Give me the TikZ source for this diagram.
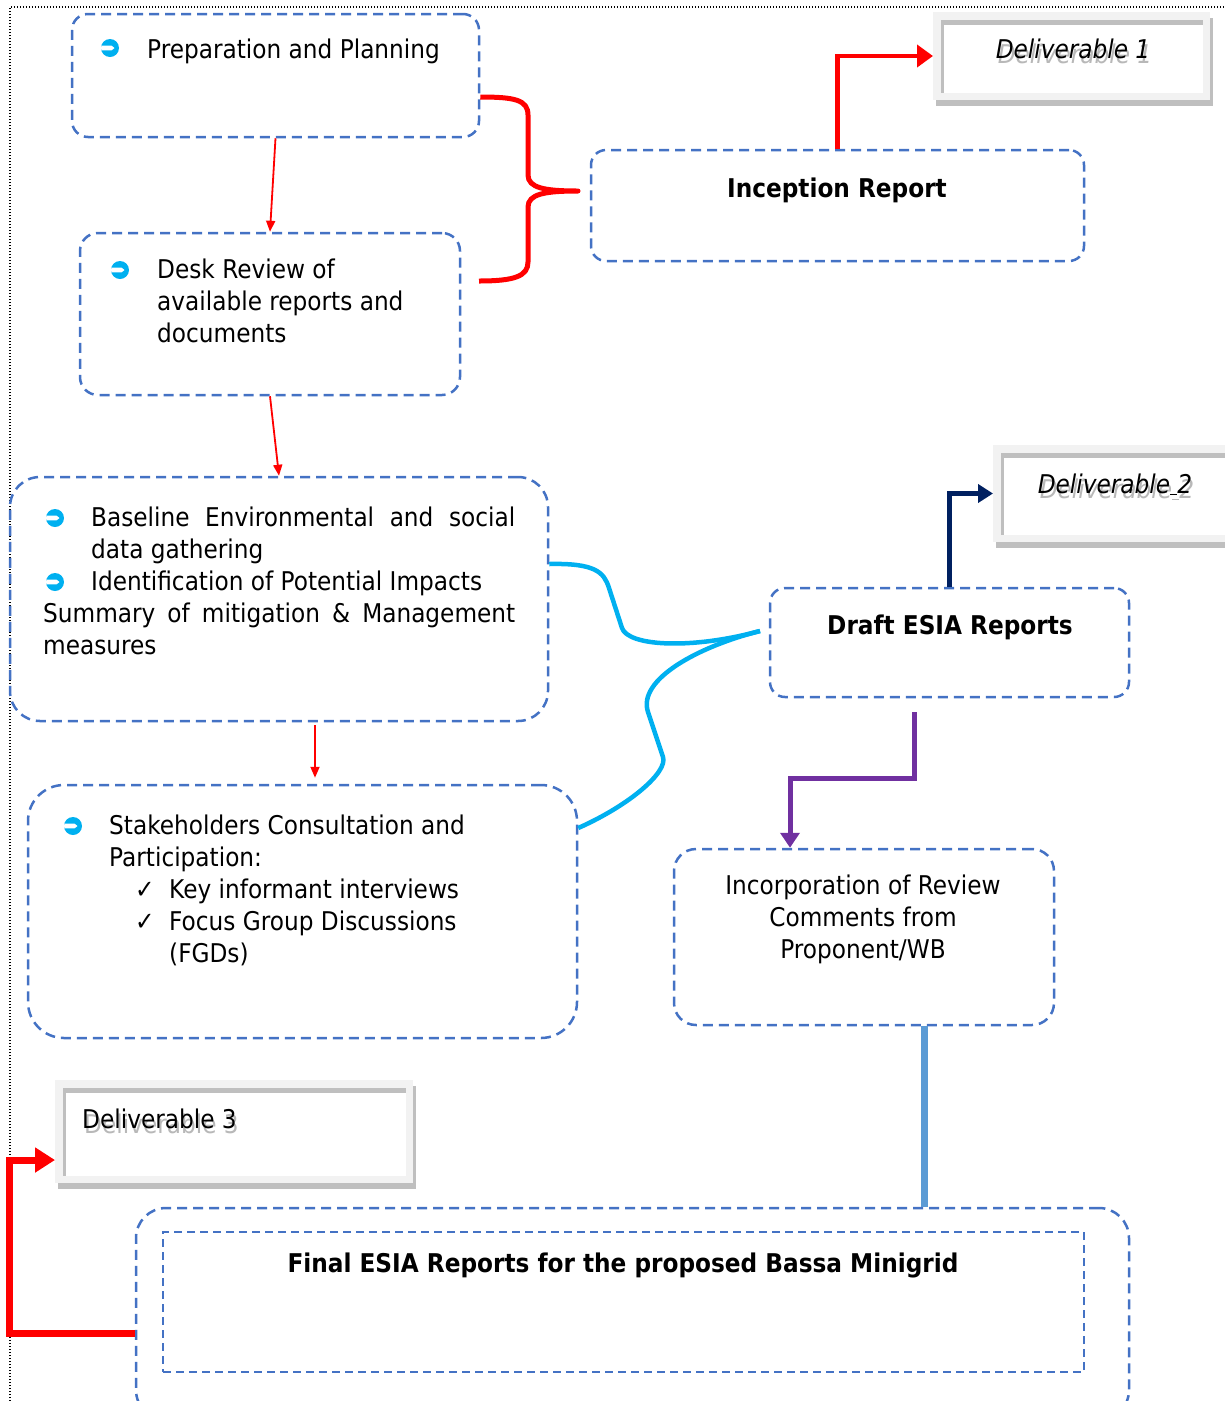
\documentclass[tikz,border=0pt]{standalone}
\usepackage{fontspec}
\setmainfont{DejaVu Sans}[FakeStretch=0.9]
\usepackage{xcolor}
\definecolor{boxblue}{RGB}{68,114,196}
\definecolor{myred}{RGB}{255,0,0}
\definecolor{mynavy}{RGB}{0,32,96}
\definecolor{mycyan}{RGB}{0,176,240}
\definecolor{mypurple}{RGB}{112,48,160}
\definecolor{mysteel}{RGB}{91,155,213}
\definecolor{framegray}{RGB}{242,242,242}
\definecolor{bandgray}{RGB}{191,191,191}
\usepackage{tikz}
\usetikzlibrary{arrows.meta,shadows,calc}
\tikzstyle{stagebox}=[draw=boxblue,line width=2.5pt,dash pattern=on 10pt off 6pt,rectangle,inner sep=0pt]
\tikzstyle{delivbox}=[draw=framegray,line width=7.5pt,fill=white,rectangle,inner sep=0pt,
  drop shadow={shadow xshift=3pt,shadow yshift=-6pt,fill=bandgray,draw=bandgray,line width=7.5pt,opacity=1},
  path picture={\fill[bandgray] (path picture bounding box.north west) rectangle ([yshift=-8.75pt]path picture bounding box.north east);
                \fill[bandgray] (path picture bounding box.north west) rectangle ([xshift=6.75pt]path picture bounding box.south west);}]
\tikzstyle{bodytext}=[inner sep=0pt,align=left,execute at begin node=\strut]
\tikzstyle{shadowtext}=[bodytext,text=black!28]
\tikzstyle{bulletmark}=[circle,fill=mycyan,minimum size=18pt,inner sep=0pt,
  path picture={\fill[white,shift={(path picture bounding box.center)}] (-10,-2.4) -- (1.5,-2.4) -- (4.5,0) -- (1.5,2.4) -- (-10,2.4) -- cycle;}]
\tikzstyle{thinarrow}=[draw=myred,line width=1.8pt,-{Triangle[length=11pt,width=9pt]}]
\tikzstyle{bracered}=[draw=myred,line width=5pt,line join=round]
\tikzstyle{redarrow}=[draw=myred,line width=4.5pt,-{Triangle[length=16pt,width=22pt]}]
\tikzstyle{navyarrow}=[draw=mynavy,line width=4.5pt,-{Triangle[length=15pt,width=18pt]}]
\tikzstyle{cyanline}=[draw=mycyan,line width=4.5pt]
\tikzstyle{purplearrow}=[draw=mypurple,line width=5pt,-{Triangle[length=15pt,width=19pt]}]
\tikzstyle{steelline}=[draw=mysteel,line width=7pt]
\tikzstyle{bigredarrow}=[draw=myred,line width=7pt,-{Triangle[length=20pt,width=24pt]}]
\tikzstyle{pageborder}=[line width=1.2pt,dash pattern=on 1.2pt off 1.8pt]
\begin{document}
\begin{tikzpicture}[x=1pt,y=-1pt,font=\fontsize{25.8}{32}\selectfont]
\useasboundingbox (0,0) rectangle (1225,1401);
\draw[pageborder] (10,1401) -- (10,7) -- (1225,7);

% process boxes
\node[stagebox,rounded corners=16pt,minimum width=407pt,minimum height=123pt] (prep) at (275.5,75.5) {};
\node[stagebox,rounded corners=18pt,minimum width=380pt,minimum height=162pt] (desk) at (270,314) {};
\node[stagebox,rounded corners=30pt,minimum width=538pt,minimum height=244pt] (base) at (279,599) {};
\node[stagebox,rounded corners=36pt,minimum width=549pt,minimum height=253pt] (stake) at (302.5,911.5) {};
\node[stagebox,rounded corners=15pt,minimum width=493pt,minimum height=111pt] (incep) at (837.5,205.5) {};
\node[stagebox,rounded corners=15pt,minimum width=359pt,minimum height=109pt] (draft) at (949.5,642.5) {};
\node[stagebox,rounded corners=22pt,minimum width=380pt,minimum height=176pt] (incorp) at (864,937) {};
\node[stagebox,rounded corners=30pt,minimum width=993pt,minimum height=212pt] (final) at (632.5,1314) {};
\node[stagebox,dash pattern=on 8pt off 5pt,minimum width=921pt,minimum height=140pt] (finalin) at (623.5,1302) {};

% deliverables
\node[delivbox,minimum width=269.5pt,minimum height=80.5pt] (d1) at (1071.5,56) {};
\node[delivbox,minimum width=243.25pt,minimum height=89.5pt] (d2) at (1118.4,493.5) {};
\node[delivbox,minimum width=350.5pt,minimum height=95.5pt] (d3) at (234,1131.5) {};

% bullets
\node[bulletmark] (b1) at (110,48) {};
\node[bulletmark] (b2) at (120,270) {};
\node[bulletmark] (b3) at (55,518) {};
\node[bulletmark] (b4) at (55,582) {};
\node[bulletmark] (b5) at (73,826) {};

% texts
\node[bodytext,anchor=north west] (preptxt) at (147,35.6) {Preparation and Planning};
\node[bodytext,anchor=north west] (desktxt) at (157,259) {Desk Review of\\available reports and\\documents};
\node[bodytext,anchor=north west] (basetxt) at (91,506.6) {\makebox[424pt][s]{Baseline Environmental and social}\\data gathering\\Identification of Potential Impacts};
\node[bodytext,anchor=north west] (basetxt2) at (43,602.6) {\makebox[472pt][s]{Summary of mitigation \& Management}\\measures};
\node[bodytext,anchor=north west] (staketxt) at (109,814.6) {Stakeholders Consultation and\\Participation:};
\node[bodytext,anchor=north west] (staketxt2) at (135,878.6) {\makebox[34pt][l]{✓}Key informant interviews\\\makebox[34pt][l]{✓}Focus Group Discussions\\\hspace*{34pt}(FGDs)};
\node[bodytext,anchor=north,font=\fontsize{25.8}{32}\selectfont\bfseries] (inceptxt) at (837,174.6) {Inception Report};
\node[bodytext,anchor=north,font=\fontsize{25.8}{32}\selectfont\bfseries] (drafttxt) at (950,611.6) {Draft ESIA Reports};
\node[bodytext,anchor=north,align=center] (incorptxt) at (863,874.6) {Incorporation of Review\\Comments from\\Proponent/WB};
\node[bodytext,anchor=north,font=\fontsize{25.8}{32}\selectfont\bfseries] (finaltxt) at (623,1249.6) {Final ESIA Reports for the proposed Bassa Minigrid};
\node[shadowtext,anchor=north,font=\fontsize{25.8}{32}\selectfont\itshape] (d1shd) at (1075,40.6) {Deliverable 1};
\node[bodytext,anchor=north,font=\fontsize{25.8}{32}\selectfont\itshape] (d1txt) at (1073,35.6) {Deliverable 1};
\node[shadowtext,anchor=north,font=\fontsize{25.8}{32}\selectfont\itshape] (d2shd) at (1117,475.6) {Deliverable\underline{\ }2};
\node[bodytext,anchor=north,font=\fontsize{25.8}{32}\selectfont\itshape] (d2txt) at (1115,470.6) {Deliverable\underline{\ }2};
\node[shadowtext,anchor=north west] (d3shd) at (84,1110.6) {Deliverable 3};
\node[bodytext,anchor=north west] (d3txt) at (82,1105.6) {Deliverable 3};

% connectors
\draw[thinarrow] (prep.south) -- (desk.north);
\draw[thinarrow] (desk.south) -- (base.north);
\draw[thinarrow] ([xshift=36pt,yshift=-3pt]base.south) -- ([xshift=12.5pt,yshift=6pt]stake.north);
\coordinate (bracetip) at (578,191);
\coordinate (braceend) at (479,281);
\draw[bracered] ([yshift=-21.5pt]prep.east) .. controls (515,97) and (528,100) .. (528,115) -- (528,175)
  .. controls (528,188) and (545,191) .. (bracetip) .. controls (545,191) and (528,194) .. (528,207)
  -- (528,262) .. controls (528,276) and (515,281) .. (braceend);
\draw[redarrow] (incep.north) |- (d1.west);
\draw[navyarrow] (draft.north) |- (d2.west);
\coordinate (cyantip) at (760,631);
\draw[cyanline] ([yshift=35pt]base.east) .. controls (595,563) and (604,572) .. (609,588) -- (622,628)
  .. controls (628,646) and (690,650) .. (cyantip);
\draw[cyanline] (cyantip) .. controls (700,646) and (637,679) .. (648,712) -- (663,757)
  .. controls (668,772) and (630,805) .. ([yshift=83.5pt]stake.east);
\draw[purplearrow] ([xshift=-35.5pt,yshift=-14pt]draft.south) |- ([xshift=-74pt,yshift=69pt]incorp.north) -- ([xshift=-74pt]incorp.north);
\draw[steelline] ([xshift=60pt]incorp.south) -- ([xshift=291.5pt]final.north);
\draw[bigredarrow] ([yshift=-19pt]final.west) -- ++(-125,0) |- ([yshift=-28.5pt]d3.west);
\end{tikzpicture}
\end{document}
